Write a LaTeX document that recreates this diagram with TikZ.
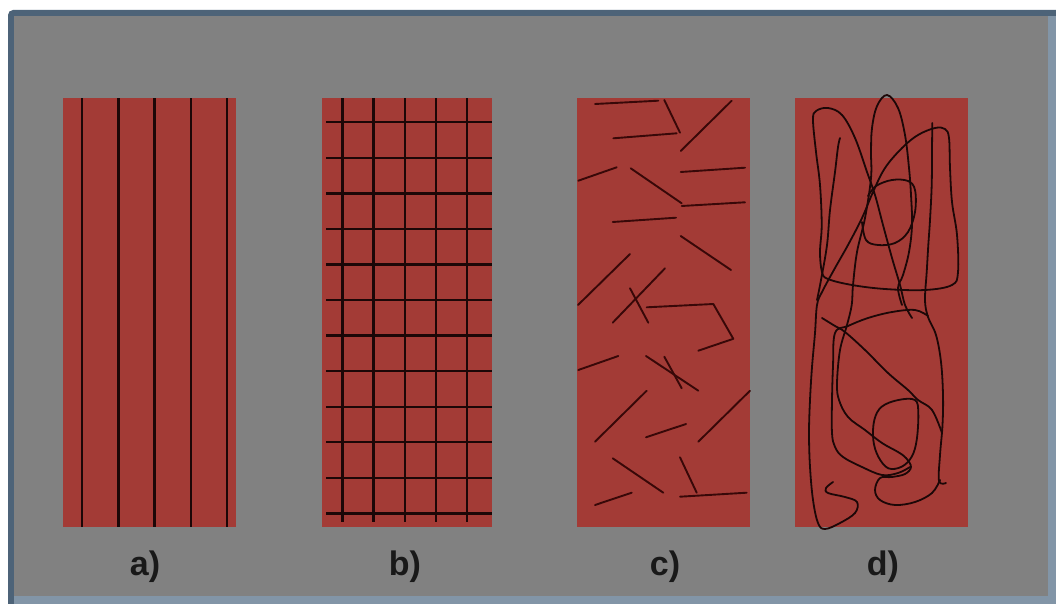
\documentclass[tikz,border=0pt]{standalone}
\usepackage{fontspec}
\setmainfont{Liberation Sans}
\definecolor{framedark}{HTML}{4D6378}
\definecolor{framelight}{HTML}{8295A7}
\definecolor{bggray}{HTML}{818181}
\definecolor{panelred}{HTML}{A33B36}
\definecolor{fibre}{HTML}{1C0707}
\definecolor{fibrec}{HTML}{380808}
\begin{document}
\begin{tikzpicture}[x=1pt,y=-1pt,
  panel/.style={fill=panelred,draw=none,inner sep=0pt,minimum width=173pt,minimum height=428pt},
  lineA/.style={draw=fibre,line width=2.4pt},
  lineB/.style={draw=fibre,line width=2.4pt},
  lineC/.style={draw=fibrec,line width=1.9pt,line cap=round,line join=round},
  lineD/.style={draw=fibre,line width=1.8pt,line cap=round,line join=round},
  lbl/.style={font=\fontsize{34}{40}\selectfont\bfseries,text=black!90,anchor=base,inner sep=0pt}]
\useasboundingbox (0,0) rectangle (1056,604);
\fill[white] (0,0) rectangle (1056,604);
\fill[framedark,rounded corners=5pt] (8,10) rectangle (1070,620);
\fill[framelight] (14,16) rectangle (1056,604);
\fill[bggray] (14,16) rectangle (1048,596);

% panels
\node[panel] (pa) at (149,312.5) {};
\node[panel,minimum width=170pt] (pb) at (406.7,312.5) {};
\node[panel] (pc) at (663.5,312.5) {};
\node[panel] (pd) at (881.5,312.5) {};

% a) parallel fibres
\foreach \x in {82,118.3,154.6,190.9,227.2}
  \draw[lineA] (\x,98.5) -- (\x,526.5);

% b) grid
\foreach \x in {342.3,373.5,404.7,435.9,467.1}
  \draw[lineB] (\x,98.5) -- (\x,522);
\foreach \j in {0,...,11}
  \draw[lineB] (326,122.3+35.55*\j) -- (491.7,122.3+35.55*\j);

% c) short random fibres
\draw[lineC] (595,104) -- (658.3,100.7);
\draw[lineC] (664.3,100) -- (680,132.7);
\draw[lineC] (613.3,138.3) -- (676.7,133.3);
\draw[lineC] (731.7,100.7) -- (680.7,151);
\draw[lineC] (578.3,180.7) -- (616.7,167.3);
\draw[lineC] (630.7,168.3) -- (681.7,203.3);
\draw[lineC] (680.7,172) -- (745,167.7);
\draw[lineC] (681.7,206) -- (745,202.3);
\draw[lineC] (612.7,222) -- (676,217.7);
\draw[lineC] (680.7,236) -- (731,270);
\draw[lineC] (630,254) -- (578,305);
\draw[lineC] (665,268.3) -- (612.7,322.7);
\draw[lineC] (630,288.3) -- (648.3,322.7);
\draw[lineC] (646.7,307.3) -- (713.3,304) -- (733.3,338.8) -- (698.3,350.7);
\draw[lineC] (578.3,370) -- (618.3,356);
\draw[lineC] (646,356) -- (698.3,390.7);
\draw[lineC] (664.3,356.7) -- (681.7,388.3);
\draw[lineC] (646.7,390.7) -- (595,441.7);
\draw[lineC] (750,390.7) -- (698.3,441.7);
\draw[lineC] (646,437.3) -- (686,424);
\draw[lineC] (612.7,458.3) -- (663.3,492.7);
\draw[lineC] (680,457.3) -- (696.7,492.7);
\draw[lineC] (680,496.7) -- (746.7,492.7);
\draw[lineC] (595,505) -- (631.7,492.7);

% d) tangled continuous fibre
\draw[lineD] plot[smooth,tension=0.6] coordinates {(902,305) (898,288) (903,275) (909,252) (912,225) (911,195) (909,168) (905,135) (898,108) (887,95) (877,106) (872,128) (871,152) (871,178) (865,218) (857,252) (853,285) (851.7,305) (847,325) (840,350) (837,383) (839,400) (848,417) (865,430) (882,443) (898,452) (906,458) (911,467) (905,474) (892,477) (880,478) (875,490) (880,500) (895,505) (915,502) (932,493) (940,480)};
\draw[lineD] plot[smooth,tension=0.6] coordinates {(912,318) (905,305) (900,285) (892,258) (883,225) (875,195) (867,172) (855,138) (842,115) (828,108) (816,111) (813,120) (816,152) (820,185) (821.7,225) (820,252) (822,272) (828,279) (852,285) (885,289) (925,290) (952,285) (958,272) (957,235) (952,202) (950,168) (949,138) (945,129) (935,128) (918,135) (902,148) (885,168) (873,192) (862,218) (848,245) (835,268) (822,292) (817,305) (815,333) (812,367) (810,400) (809,433) (810,467) (813,500) (818,523) (825,529) (840,523) (855,513) (857,502) (845,497) (828,493) (826,488) (833,482)};
\draw[lineD] plot[smooth,tension=0.6] coordinates {(840,138) (838,147) (835,172) (830,210) (827,245) (821,280) (817,300)};
\draw[lineD] plot[smooth,tension=0.6] coordinates {(946,483) (939,481) (940,455) (942.5,425) (943,395) (941,362) (936,335) (928,317) (925,300) (926.7,272) (928.3,245) (930,220) (931.7,185) (932,150) (932.3,123)};
\draw[lineD] plot[smooth,tension=0.6] coordinates {(928,316) (915,310) (892,312) (868,318) (848,326) (835,333) (833,366) (832,400) (832,433) (835,447) (843,457) (862,467) (882,475) (898,473) (910,467)};
\draw[lineD] plot[smooth,tension=0.6] coordinates {(822,318) (835,326) (845,332) (865,350) (888,373) (908,390) (918,400) (932,410) (942,433)};
\draw[lineD] plot[smooth cycle,tension=0.6] coordinates {(881.7,406.7) (898.3,400) (915,400) (918.3,413.3) (916.7,440) (911.7,456.7) (901.7,466.7) (888.3,468.3) (878.3,456.7) (873.3,440) (874.3,420)};
\draw[lineD] plot[smooth,tension=0.6] coordinates {(862,222) (866,240) (878,245) (895,243) (908,232) (915,212) (915,190) (908,181) (892,180) (876,186) (868,196)};

% labels
\node[lbl] (la) at (145,575) {a)};
\node[lbl] (lb) at (405,575) {b)};
\node[lbl] (lc) at (665,575) {c)};
\node[lbl] (ld) at (883,575) {d)};
\end{tikzpicture}
\end{document}
